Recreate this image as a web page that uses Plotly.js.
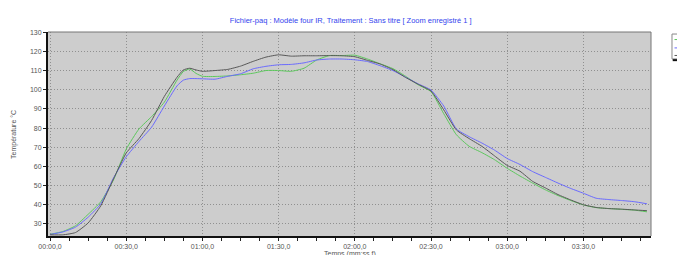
<!DOCTYPE html>
<html>
<head>
<meta charset="utf-8">
<script src="https://cdn.plot.ly/plotly-3.0.1.min.js"></script>
<style>html,body{margin:0;padding:0;background:#fff;}#chart{width:677px;height:255px;}</style>
</head>
<body>
<div id="chart"></div>
<script>
// Time in seconds
const timeSec = [0,5,10,15,20,25,30,35,40,45,50,52.5,55,57.5,60,65,70,75,80,85,90,95,100,105,110,115,120,125,130,135,140,145,150,155,160,165,170,175,180,185,190,195,200,205,210,215,220,225,230,235];
const greenTemp = [24.6,26,29,35,41.6,53,69,79.5,86,93.5,105,109.5,110.8,108.5,107,106.9,107.2,107.8,108.6,110,110,109.6,111.2,115.5,117.8,117.8,118,116,113.5,111,107,102.5,99,87.5,76.5,70.5,67.2,63.5,59,55,51.3,47.8,44.8,42.2,39.9,38.5,38,37.6,37.2,36.3];
const blueTemp = [24.5,25.8,28.3,33.5,40.5,54,65,73,80.5,91.5,102,105,105.8,105.8,105.7,105.5,107,108.3,110.9,112.2,113,113.2,114,115.5,116,116,115.6,114.7,112.5,110,106.5,103,99.8,91.5,79.5,75.5,72.2,68.5,64.1,61,57.3,54.3,51.3,48.5,46,43.4,42.7,42.2,41.6,40.5];
const grayTemp = [24.3,24.3,25.5,30.5,39.5,53.5,67,74.5,84,96.5,106.5,110.3,111.2,110.3,109.6,110,110.6,112.3,114.8,117,118.2,117.5,117.7,117.7,117.8,117.7,117.2,115.3,113.4,110.5,106.4,102.8,99.3,89.5,79,74.5,70.5,65.5,60.5,57.5,52.2,48.8,45.3,42.5,40,38.6,38,37.7,37.3,36.9];
const xTickVals = [0,30,60,90,120,150,180,210];
const xTickText = ["00:00,0","00:30,0","01:00,0","01:30,0","02:00,0","02:30,0","03:00,0","03:30,0"];
const yTickVals = [30,40,50,60,70,80,90,100,110,120,130];

const lineShape = {shape:'spline', smoothing:0.5, width:1};
const traces = [
  {x: timeSec, y: greenTemp, type:'scatter', mode:'lines', line:Object.assign({color:'#5cc85c'}, lineShape), showlegend:false},
  {x: timeSec, y: blueTemp, type:'scatter', mode:'lines', line:Object.assign({color:'#6a6aff'}, lineShape), showlegend:false},
  {x: timeSec, y: grayTemp, type:'scatter', mode:'lines', line:Object.assign({color:'#585858'}, lineShape), showlegend:false}
];

const layout = {
  width: 677, height: 255,
  margin: {l:48, r:26, t:32, b:19, autoexpand:false},
  paper_bgcolor: '#ffffff',
  plot_bgcolor: '#cdcdcd',
  font: {family: 'Liberation Sans, Arial, sans-serif', size: 7, color: '#555'},
  title: {text: 'Fichier-paq : Modèle four IR, Traitement : Sans titre [ Zoom enregistré 1 ]',
          font: {size: 7.5, color: '#3344ee'}, x: 0.502, xref: 'paper', y: 0.93, yref: 'container'},
  xaxis: {
    range: [-0.8, 236.6], tickvals: xTickVals, ticktext: xTickText,
    ticks: 'outside', ticklen: 3, tickcolor: '#222', tickwidth: 1,
    minor: {dtick: 7.5, tick0: 0, ticks: 'outside', ticklen: 3, tickcolor: '#222', showgrid: false},
    showgrid: true, gridcolor: '#909090', griddash: '1px,2px', gridwidth: 1,
    showline: true, linecolor: '#111', linewidth: 2, zeroline: false,
    tickfont: {size: 7, color: '#555'}
  },
  yaxis: {
    range: [23.7, 130.1], tickvals: yTickVals,
    ticks: 'outside', ticklen: 3, tickcolor: '#222',
    showgrid: true, gridcolor: '#909090', griddash: '1px,2px', gridwidth: 1,
    showline: true, linecolor: '#111', linewidth: 2, zeroline: false,
    tickfont: {size: 7, color: '#555'}
  },
  annotations: [
    {text: 'Température °C', xref: 'paper', yref: 'paper', x: -0.0564, xanchor: 'center', y: 0.5, yanchor: 'middle',
     textangle: -90, showarrow: false, font: {size: 7, color: '#555'}},
    {text: 'Temps (mm:ss.f)', xref: 'paper', yref: 'paper', x: 0.5, xanchor: 'center', y: 0, yanchor: 'top',
     showarrow: false, font: {size: 7, color: '#555'}, yshift: -12}
  ],
  shapes: [
    {type:'line', xref:'paper', yref:'paper', x0:0, x1:1, y0:1, y1:1, line:{color:'#777', width:1}},
    {type:'line', xref:'paper', yref:'paper', x0:1, x1:1, y0:0, y1:1, line:{color:'#777', width:1}},
    {type:'rect', xref:'paper', yref:'paper', x0:1.0348, x1:1.06, y0:0.868, y1:0.99, fillcolor:'#ffffff', line:{color:'#888', width:1}},
    {type:'line', xref:'paper', yref:'paper', x0:1.036, x1:1.06, y0:0.862, y1:0.862, line:{color:'#111', width:2}},
    {type:'line', xref:'paper', yref:'paper', x0:1.039, x1:1.045, y0:0.963, y1:0.963, line:{color:'#5cc85c', width:1}},
    {type:'line', xref:'paper', yref:'paper', x0:1.039, x1:1.045, y0:0.922, y1:0.922, line:{color:'#6a6aff', width:1}},
    {type:'line', xref:'paper', yref:'paper', x0:1.039, x1:1.045, y0:0.885, y1:0.885, line:{color:'#585858', width:1}}
  ]
};

Plotly.newPlot('chart', traces, layout, {displayModeBar: false, staticPlot: true});
</script>
</body>
</html>
